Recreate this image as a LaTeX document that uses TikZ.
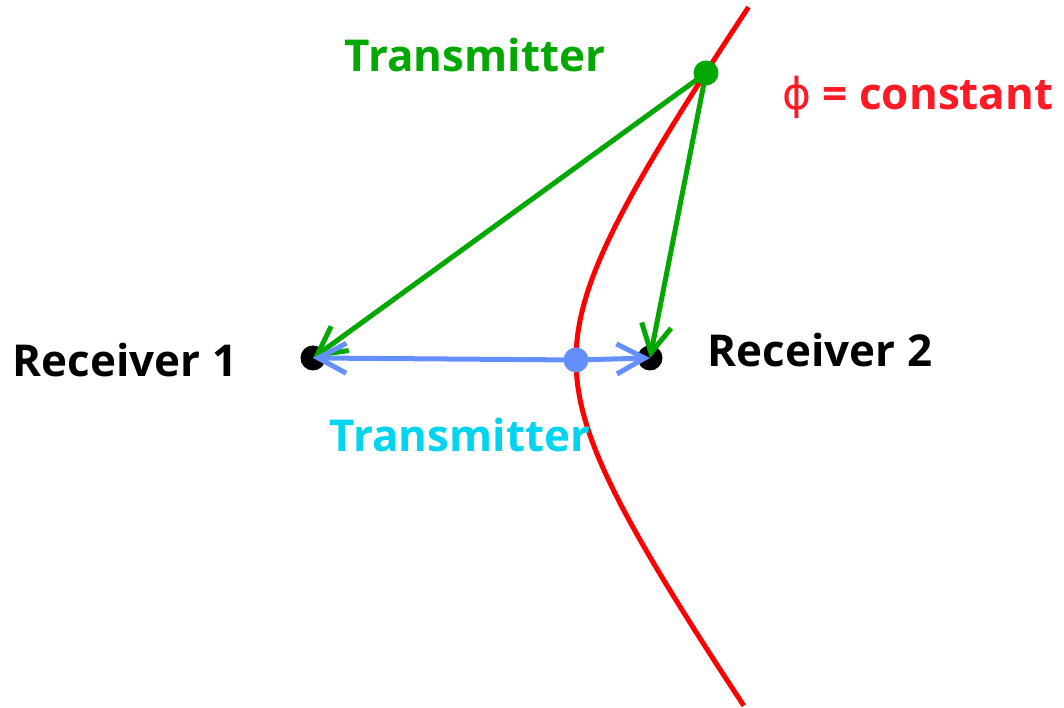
\documentclass[tikz,border=0pt]{standalone}
\usepackage{fontspec}
\setmainfont{Open Sans}
\newfontfamily\phifont{DejaVu Sans}
\usepackage{tikz}
\usetikzlibrary{arrows.meta,calc,positioning}
\definecolor{txCol}{HTML}{00A800}
\definecolor{tyCol}{HTML}{00D4F0}
\definecolor{phCol}{HTML}{FF1A26}
\definecolor{lnCol}{HTML}{6490FF}
\tikzset{
  dot/.style={circle, fill=#1, inner sep=0pt, minimum size=0.25cm},
  lbl/.style={font=\fontsize{12.5}{15}\selectfont\bfseries, text=#1, inner sep=0pt},
  ray/.style={-{Straight Barb[length=0.28cm, width=0.30cm, line width=0.05cm]},
              line width=0.05cm, line cap=round, #1},
  locus/.style={line width=0.05cm, red},
}
\begin{document}
\begin{tikzpicture}
  \useasboundingbox (0,0) rectangle (10.64,7.08);
  % hyperbola centre and half-axes
  \def\hx{4.815}\def\hy{3.48}\def\ha{0.945}\def\hb{1.335}
  \draw[locus] plot[domain=-1.68:1.70, samples=80, variable=\t]
    ({\hx+\ha*cosh(\t)},{\hy+\hb*sinh(\t)});
  % points
  \node[dot=black]   (r1)  at (3.13,3.50) {};
  \node[dot=black]   (r2)  at (6.50,3.50) {};
  \node[dot=lnCol]   (tx2) at (5.76,3.48) {};
  \node[dot=txCol]   (tx1) at (7.06,6.35) {};
  % signal paths
  \draw[ray=txCol] (tx1.center) -- (r1.center);
  \draw[ray=txCol] (tx1.center) -- (r2.center);
  \draw[ray=lnCol] (tx2.center) -- (r1.center);
  \draw[ray=lnCol] (tx2.center) -- (r2.center);
  % labels
  \node[lbl=txCol] (ltx1) at (4.75,6.53) {Transmitter};
  \node[lbl=tyCol] (ltx2) at (4.60,2.73) {Transmitter};
  \node[lbl=black] (lr1)  at (1.25,3.48) {Receiver 1};
  \node[lbl=black] (lr2)  at (8.20,3.58) {Receiver 2};
  \node[lbl=phCol] (lphi) at (9.18,6.11) {{\phifont\mdseries ϕ} = constant};
\end{tikzpicture}
\end{document}
